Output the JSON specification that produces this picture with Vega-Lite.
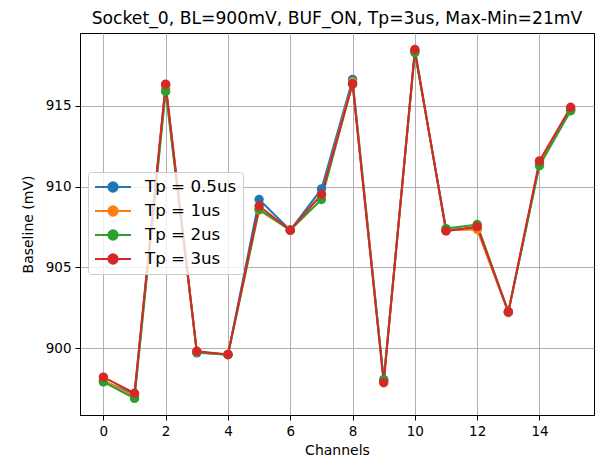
{
  "$schema": "https://vega.github.io/schema/vega-lite/v6.json",
  "width": 514,
  "height": 382,
  "autosize": {"type": "none"},
  "padding": {"left": 80, "top": 33, "right": 6, "bottom": 42},
  "background": "white",
  "title": {
    "text": "Socket_0, BL=900mV, BUF_ON, Tp=3us, Max-Min=21mV",
    "font": "DejaVu Sans",
    "fontSize": 17.2,
    "fontWeight": "normal",
    "color": "black",
    "anchor": "middle",
    "offset": 6
  },
  "data": {
    "values": [
      {"ch": 0, "tp": "Tp = 0.5us", "v": 897.95},
      {"ch": 1, "tp": "Tp = 0.5us", "v": 897.15},
      {"ch": 2, "tp": "Tp = 0.5us", "v": 916.3},
      {"ch": 3, "tp": "Tp = 0.5us", "v": 899.7},
      {"ch": 4, "tp": "Tp = 0.5us", "v": 899.6},
      {"ch": 5, "tp": "Tp = 0.5us", "v": 909.2},
      {"ch": 6, "tp": "Tp = 0.5us", "v": 907.3},
      {"ch": 7, "tp": "Tp = 0.5us", "v": 909.85},
      {"ch": 8, "tp": "Tp = 0.5us", "v": 916.65},
      {"ch": 9, "tp": "Tp = 0.5us", "v": 898.05},
      {"ch": 10, "tp": "Tp = 0.5us", "v": 918.4},
      {"ch": 11, "tp": "Tp = 0.5us", "v": 907.3},
      {"ch": 12, "tp": "Tp = 0.5us", "v": 907.4},
      {"ch": 13, "tp": "Tp = 0.5us", "v": 902.2},
      {"ch": 14, "tp": "Tp = 0.5us", "v": 911.4},
      {"ch": 15, "tp": "Tp = 0.5us", "v": 914.8},
      {"ch": 0, "tp": "Tp = 1us", "v": 898.0},
      {"ch": 1, "tp": "Tp = 1us", "v": 897.0},
      {"ch": 2, "tp": "Tp = 1us", "v": 916.1},
      {"ch": 3, "tp": "Tp = 1us", "v": 899.75},
      {"ch": 4, "tp": "Tp = 1us", "v": 899.6},
      {"ch": 5, "tp": "Tp = 1us", "v": 908.55},
      {"ch": 6, "tp": "Tp = 1us", "v": 907.3},
      {"ch": 7, "tp": "Tp = 1us", "v": 909.5},
      {"ch": 8, "tp": "Tp = 1us", "v": 916.5},
      {"ch": 9, "tp": "Tp = 1us", "v": 897.95},
      {"ch": 10, "tp": "Tp = 1us", "v": 918.4},
      {"ch": 11, "tp": "Tp = 1us", "v": 907.3},
      {"ch": 12, "tp": "Tp = 1us", "v": 907.35},
      {"ch": 13, "tp": "Tp = 1us", "v": 902.2},
      {"ch": 14, "tp": "Tp = 1us", "v": 911.5},
      {"ch": 15, "tp": "Tp = 1us", "v": 914.7},
      {"ch": 0, "tp": "Tp = 2us", "v": 897.9},
      {"ch": 1, "tp": "Tp = 2us", "v": 896.88},
      {"ch": 2, "tp": "Tp = 2us", "v": 915.9},
      {"ch": 3, "tp": "Tp = 2us", "v": 899.75},
      {"ch": 4, "tp": "Tp = 2us", "v": 899.58},
      {"ch": 5, "tp": "Tp = 2us", "v": 908.6},
      {"ch": 6, "tp": "Tp = 2us", "v": 907.3},
      {"ch": 7, "tp": "Tp = 2us", "v": 909.2},
      {"ch": 8, "tp": "Tp = 2us", "v": 916.4},
      {"ch": 9, "tp": "Tp = 2us", "v": 898.0},
      {"ch": 10, "tp": "Tp = 2us", "v": 918.3},
      {"ch": 11, "tp": "Tp = 2us", "v": 907.4},
      {"ch": 12, "tp": "Tp = 2us", "v": 907.65},
      {"ch": 13, "tp": "Tp = 2us", "v": 902.25},
      {"ch": 14, "tp": "Tp = 2us", "v": 911.3},
      {"ch": 15, "tp": "Tp = 2us", "v": 914.7},
      {"ch": 0, "tp": "Tp = 3us", "v": 898.2},
      {"ch": 1, "tp": "Tp = 3us", "v": 897.2},
      {"ch": 2, "tp": "Tp = 3us", "v": 916.35},
      {"ch": 3, "tp": "Tp = 3us", "v": 899.8},
      {"ch": 4, "tp": "Tp = 3us", "v": 899.6},
      {"ch": 5, "tp": "Tp = 3us", "v": 908.8},
      {"ch": 6, "tp": "Tp = 3us", "v": 907.3},
      {"ch": 7, "tp": "Tp = 3us", "v": 909.52},
      {"ch": 8, "tp": "Tp = 3us", "v": 916.35},
      {"ch": 9, "tp": "Tp = 3us", "v": 897.85},
      {"ch": 10, "tp": "Tp = 3us", "v": 918.5},
      {"ch": 11, "tp": "Tp = 3us", "v": 907.25},
      {"ch": 12, "tp": "Tp = 3us", "v": 907.52},
      {"ch": 13, "tp": "Tp = 3us", "v": 902.25},
      {"ch": 14, "tp": "Tp = 3us", "v": 911.6},
      {"ch": 15, "tp": "Tp = 3us", "v": 914.92}
    ]
  },
  "encoding": {
    "x": {
      "field": "ch",
      "type": "quantitative",
      "title": "Channels",
      "scale": {"domain": [-0.75, 15.75], "nice": false, "zero": false},
      "axis": {"values": [0, 2, 4, 6, 8, 10, 12, 14], "format": "d"}
    },
    "y": {
      "field": "v",
      "type": "quantitative",
      "title": "Baseline (mV)",
      "scale": {"domain": [895.85, 919.52], "nice": false, "zero": false},
      "axis": {"values": [900, 905, 910, 915], "format": "d"}
    },
    "color": {
      "field": "tp",
      "type": "nominal",
      "scale": {
        "domain": ["Tp = 0.5us", "Tp = 1us", "Tp = 2us", "Tp = 3us"],
        "range": ["#1f77b4", "#ff7f0e", "#2ca02c", "#d62728"]
      },
      "legend": {
        "title": null,
        "orient": "none",
        "legendX": 8,
        "legendY": 139,
        "padding": 6,
        "rowPadding": 6,
        "fillColor": "rgba(255,255,255,0.8)",
        "strokeColor": "#cccccc",
        "cornerRadius": 3,
        "labelFont": "DejaVu Sans",
        "labelFontSize": 16.7,
        "labelColor": "black",
        "labelOffset": 23,
        "symbolSize": 256,
        "symbolOffset": 10,
        "symbolStrokeWidth": 2,
        "symbolOpacity": 1,
        "symbolType": "M-2.25,0H2.25M-0.58,0A0.58,0.58,0,1,1,0.58,0A0.58,0.58,0,1,1,-0.58,0Z",
        "encode": {
          "symbols": {
            "update": {
              "fill": {"scale": "color", "field": "value"},
              "stroke": {"scale": "color", "field": "value"}
            }
          }
        }
      }
    }
  },
  "layer": [
    {"mark": {"type": "line", "strokeWidth": 2}},
    {"mark": {"type": "point", "filled": true, "shape": "circle", "size": 88, "opacity": 1}}
  ],
  "config": {
    "view": {"stroke": "black", "strokeWidth": 1},
    "axis": {
      "labelFont": "DejaVu Sans",
      "labelFontSize": 13.5,
      "labelColor": "black",
      "titleFont": "DejaVu Sans",
      "titleFontSize": 14,
      "titleFontWeight": "normal",
      "titleColor": "black",
      "domainColor": "black",
      "tickColor": "black",
      "tickSize": 5,
      "gridColor": "#b0b0b0",
      "gridWidth": 1,
      "grid": true
    },
    "axisX": {"labelPadding": 4, "titlePadding": 6},
    "axisY": {"labelPadding": 4, "titlePadding": 10}
  }
}
